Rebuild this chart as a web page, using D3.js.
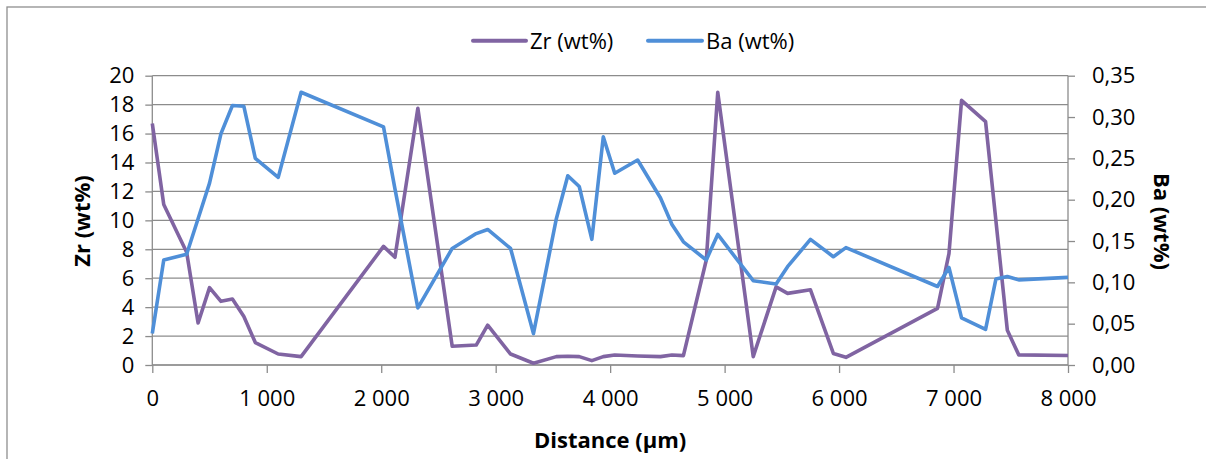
<!DOCTYPE html>
<html><head><meta charset="utf-8">
<script src="https://cdn.jsdelivr.net/npm/d3@7"></script>
<style>
html,body{margin:0;padding:0;background:#fff;}
svg{display:block;font-family:"Open Sans",sans-serif;}
</style></head>
<body>
<svg id="chart" width="1206" height="459"></svg>
<script>
const zrDistance = [0,100,300,400,500,600,700,800,900,1100,1300,2020,2120,2320,2620,2830,2930,3130,3330,3530,3630,3730,3840,3940,4040,4240,4440,4540,4640,4840,4940,5250,5450,5550,5750,5950,6060,6860,6960,7070,7280,7470,7570,8000];
const zr = [16.7,11.1,7.8,2.9,5.35,4.4,4.56,3.35,1.55,0.76,0.58,8.2,7.45,17.75,1.3,1.38,2.75,0.76,0.12,0.58,0.6,0.58,0.3,0.58,0.69,0.62,0.58,0.69,0.65,7.26,18.85,0.58,5.4,4.95,5.2,0.8,0.53,3.92,7.7,18.3,16.82,2.4,0.7,0.66];
const baDistance = [0,100,300,400,500,600,700,800,900,1100,1300,2020,2120,2320,2620,2830,2930,3130,3330,3530,3630,3730,3840,3940,4040,4240,4440,4540,4640,4840,4940,5250,5450,5550,5750,5950,6060,6860,6960,7070,7280,7370,7470,7570,8000];
const ba = [0.038,0.127,0.134,0.177,0.22,0.28,0.314,0.313,0.25,0.227,0.33,0.288,0.213,0.069,0.141,0.159,0.164,0.141,0.038,0.177,0.229,0.216,0.152,0.276,0.232,0.248,0.202,0.17,0.149,0.127,0.158,0.102,0.098,0.119,0.152,0.131,0.142,0.095,0.118,0.057,0.043,0.104,0.107,0.103,0.106];
const xTicks = [0,1000,2000,3000,4000,5000,6000,7000,8000];
const leftTicks = [0,2,4,6,8,10,12,14,16,18,20];
const rightTicks = [0,0.05,0.10,0.15,0.20,0.25,0.30,0.35];
const seriesNames = ["Zr (wt%)","Ba (wt%)"];
const xTitle = "Distance (µm)";

const svg = d3.select("#chart");
const L = 152.3, R = 1068, T = 75.7, B = 365;
const x = d3.scaleLinear().domain([0,8000]).range([L,R]);
const yL = d3.scaleLinear().domain([0,20]).range([B,T]);
const yR = d3.scaleLinear().domain([0,0.35]).range([B,T]);
const grid = "#8c8c8c";
const fmtX = d => d3.format(",")(d).replace(/,/g," ");
const fmtR = d => d.toFixed(2).replace(".",",");

// outer border
svg.append("rect").attr("x",7).attr("y",7).attr("width",1220).attr("height",470)
  .attr("fill","none").attr("stroke","#8f8f8f").attr("stroke-width",1.3);

// gridlines
svg.append("g").selectAll("line").data(leftTicks).join("line")
  .attr("x1",L).attr("x2",R).attr("y1",d=>yL(d)).attr("y2",d=>yL(d))
  .attr("stroke",grid).attr("stroke-width",1.2);

// axes
const gl = svg.append("g").attr("transform",`translate(${L},0)`)
  .call(d3.axisLeft(yL).tickValues(leftTicks).tickSize(7).tickPadding(11).tickFormat(d=>d));
const gr = svg.append("g").attr("transform",`translate(${R},0)`)
  .call(d3.axisRight(yR).tickValues(rightTicks).tickSize(7).tickPadding(17).tickFormat(fmtR));
const gb = svg.append("g").attr("transform",`translate(0,${B})`)
  .call(d3.axisBottom(x).tickValues(xTicks).tickSize(8).tickPadding(17).tickFormat(fmtX));
[gl,gr,gb].forEach(g=>{
  g.select(".domain").attr("stroke",grid).attr("stroke-width",1.3);
  g.selectAll(".tick line").attr("stroke",grid).attr("stroke-width",1.3);
  g.selectAll("text").attr("font-size",22).attr("fill","#000").attr("font-family","Open Sans");
});
gb.select(".domain").attr("d",`M${L},0H${R}`);
gl.select(".domain").attr("d",`M0,${B}V${T}`);
gr.select(".domain").attr("d",`M0,${B}V${T}`);

// lines
const lineZr = d3.line().x((d,i)=>x(zrDistance[i])).y(d=>yL(d));
const lineBa = d3.line().x((d,i)=>x(baDistance[i])).y(d=>yR(d));
svg.append("path").datum(zr).attr("d",lineZr).attr("fill","none")
  .attr("stroke","#8064A2").attr("stroke-width",3.6).attr("stroke-linejoin","round");
svg.append("path").datum(ba).attr("d",lineBa).attr("fill","none")
  .attr("stroke","#4F8FD8").attr("stroke-width",3.6).attr("stroke-linejoin","round");

// axis titles
svg.append("text").attr("transform","translate(90,221) rotate(-90)")
  .attr("text-anchor","middle").attr("font-weight","bold").attr("font-size",22).text("Zr (wt%)");
svg.append("text").attr("transform","translate(1154,221.5) rotate(90)")
  .attr("text-anchor","middle").attr("font-weight","bold").attr("font-size",22).text("Ba (wt%)");
svg.append("text").attr("x",(L+R)/2).attr("y",448).attr("text-anchor","middle")
  .attr("font-weight","bold").attr("font-size",22).text(xTitle);

// legend
const legend = [{name:seriesNames[0],color:"#8064A2",x1:473,x2:526,tx:530},
                {name:seriesNames[1],color:"#4F8FD8",x1:648,x2:702,tx:706}];
const lg = svg.append("g");
legend.forEach(l=>{
  lg.append("line").attr("x1",l.x1).attr("x2",l.x2).attr("y1",40.7).attr("y2",40.7)
    .attr("stroke",l.color).attr("stroke-width",4).attr("stroke-linecap","round");
  lg.append("text").attr("x",l.tx).attr("y",48.5).attr("font-size",22).text(l.name);
});
</script>
</body></html>
